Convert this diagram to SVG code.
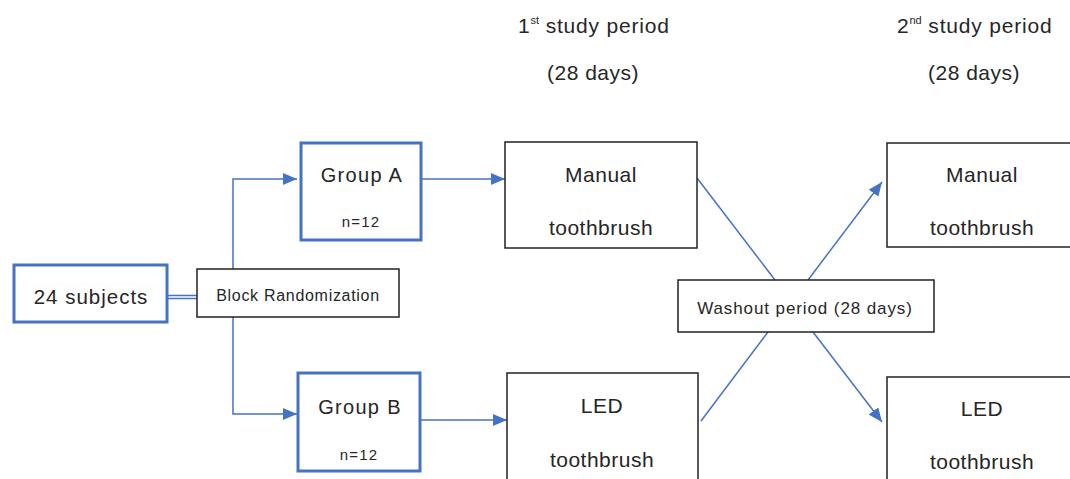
<svg xmlns="http://www.w3.org/2000/svg" width="1070" height="479" viewBox="0 0 1070 479">
<style>
text{font-family:"Liberation Sans",Arial,sans-serif;fill:#262626;text-anchor:middle}
.blue{fill:#fff;stroke:#4472C4;stroke-width:3}
.blk{fill:#fff;stroke:#222;stroke-width:1.5}
.ln{stroke:#4472C4;stroke-width:1.5;fill:none}
.t21{font-size:21px;letter-spacing:0.5px}
.hd{font-size:21px;letter-spacing:0.8px;text-anchor:start}
.sup{font-size:11px;letter-spacing:0}
.grp{font-size:20px;letter-spacing:1.3px}
.n{font-size:15px;letter-spacing:1.2px}
.br{font-size:16px;letter-spacing:0.7px}
.wo{font-size:17px;letter-spacing:0.9px}
.sub{font-size:20.5px;letter-spacing:1px}
</style>
<defs>
<marker id="ah2" viewBox="0 0 14 12" refX="14" refY="6" markerWidth="14" markerHeight="12" markerUnits="userSpaceOnUse" orient="auto">
<path d="M0,0 L14,6 L0,12 z" fill="#4472C4"/>
</marker>
</defs>
<g id="headers">
<text x="518" y="33" class="hd">1<tspan class="sup" dy="-9">st</tspan><tspan dy="9"> study period</tspan></text>
<text x="593" y="80" class="t21">(28 days)</text>
<text x="897" y="33" class="hd">2<tspan class="sup" dy="-9">nd</tspan><tspan dy="9"> study period</tspan></text>
<text x="974" y="80" class="t21">(28 days)</text>
</g>
<g id="connectors">
<line class="ln" x1="167" y1="295.5" x2="197" y2="295.5"/>
<line class="ln" x1="167" y1="298.5" x2="197" y2="298.5"/>
<polyline class="ln" points="233,269 233,179 297,179" marker-end="url(#ah2)"/>
<polyline class="ln" points="233,317 233,414 297,414" marker-end="url(#ah2)"/>
<line class="ln" x1="421" y1="179" x2="505" y2="179" marker-end="url(#ah2)"/>
<line class="ln" x1="420" y1="420" x2="507" y2="420" marker-end="url(#ah2)"/>
<line class="ln" x1="697" y1="178" x2="775" y2="280"/>
<line class="ln" x1="808" y1="280" x2="882" y2="182" marker-end="url(#ah2)"/>
<line class="ln" x1="701" y1="421" x2="768" y2="332"/>
<line class="ln" x1="813" y1="332" x2="882" y2="422" marker-end="url(#ah2)"/>
</g>
<g id="subjects">
<rect class="blue" x="14" y="265" width="153" height="57"/>
<text x="91" y="304" class="sub">24 subjects</text>
</g>
<g id="randomization">
<rect class="blk" x="197" y="269" width="202" height="48"/>
<text x="298" y="301" class="br">Block Randomization</text>
</g>
<g id="groupA">
<rect class="blue" x="301" y="143" width="120" height="97"/>
<text x="362" y="182" class="grp">Group A</text>
<text x="361" y="227" class="n">n=12</text>
</g>
<g id="groupB">
<rect class="blue" x="298" y="373" width="122" height="98"/>
<text x="360" y="414" class="grp">Group B</text>
<text x="359" y="460" class="n">n=12</text>
</g>
<g id="manual1">
<rect class="blk" x="505" y="142" width="192" height="106"/>
<text x="601" y="182" class="t21">Manual</text>
<text x="601" y="235" class="t21">toothbrush</text>
</g>
<g id="led1">
<rect class="blk" x="507" y="373" width="191" height="110"/>
<text x="602" y="413" class="t21">LED</text>
<text x="602" y="467" class="t21">toothbrush</text>
</g>
<g id="washout">
<rect class="blk" x="678" y="280" width="256" height="52"/>
<text x="805" y="314" class="wo">Washout period (28 days)</text>
</g>
<g id="manual2">
<rect class="blk" x="887" y="143" width="190" height="104"/>
<text x="982" y="182" class="t21">Manual</text>
<text x="982" y="235" class="t21">toothbrush</text>
</g>
<g id="led2">
<rect class="blk" x="887" y="377" width="190" height="110"/>
<text x="982" y="416" class="t21">LED</text>
<text x="982" y="469" class="t21">toothbrush</text>
</g>
</svg>
